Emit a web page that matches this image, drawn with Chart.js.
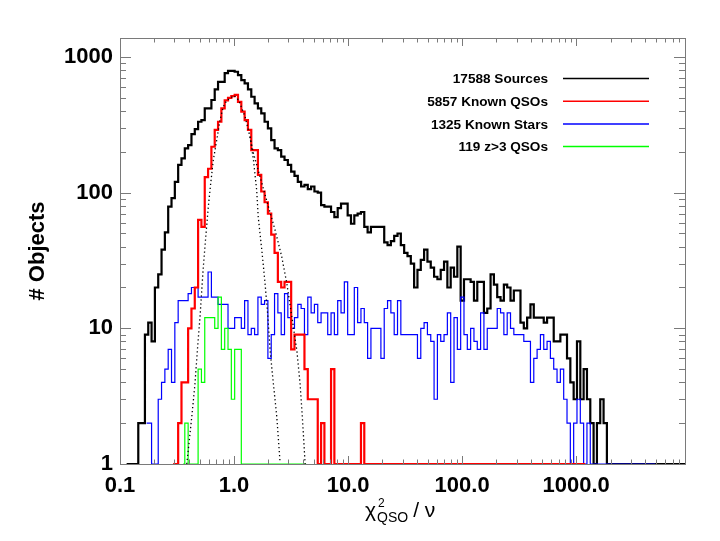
<!DOCTYPE html>
<html>
<head>
<meta charset="utf-8">
<script src="https://cdn.jsdelivr.net/npm/chart.js@4.4.1/dist/chart.umd.min.js"></script>
<style>
  html, body { margin: 0; padding: 0; background: #fff; }
</style>
</head>
<body>
<canvas id="chart" width="720" height="541"></canvas>
<script>
// axis ranges and the log-spaced histogram bins (171 bin centres from X_MIN to X_MAX)
const X_MIN = 0.1;
const X_MAX = 9000;
const Y_MIN = 1;
const Y_MAX = 1380;
const N_BINS = 171;

const xTickValues = [0.1, 1, 10, 100, 1000];
const xTickLabels = ['0.1', '1.0', '10.0', '100.0', '1000.0'];
const yTickValues = [1, 10, 100, 1000];
const yTickLabels = ['1', '10', '100', '1000'];

const legendLabels = ['17588 Sources', '5857 Known QSOs', '1325 Known Stars', '119 z>3 QSOs'];

// counts per bin, each list starts at its own first bin
const sourcesFirstBin = 2;
const sourcesCounts = [
  0, 0, 0, 0, 2, 2,
  9, 11, 8, 20, 25, 38, 51, 79, 91, 120,
  160, 179, 212, 224, 270, 294, 333, 343, 418, 418,
  482, 577, 656, 656, 760, 791, 791, 778, 736, 676,
  639, 577, 509, 455, 418, 384, 333, 298, 244, 212,
  206, 184, 174, 160, 143, 133, 120, 111, 114, 106,
  111, 102, 100, 81, 79, 79, 72, 66, 77, 83,
  83, 68, 59, 68, 70, 72, 56, 51, 56, 56,
  56, 56, 43, 41, 44, 48, 50, 41, 36, 34,
  30, 20, 27, 32, 38, 31, 28, 24, 23, 27,
  31, 20, 28, 24, 40, 16, 23, 23, 22, 16,
  22, 22, 13, 14, 25, 21, 17, 16, 21, 20,
  16, 19, 19, 11, 10, 12, 15, 12, 12, 12,
  11, 12, 12, 8, 8, 9, 9, 6, 4, 3,
  8, 3, 5, 3, 2, 0, 2, 3, 2, 0,
  0, 0, 0, 0, 0, 0, 0, 0, 0, 0, 0, 0, 0, 0, 0, 0, 0, 0, 0, 0, 0, 0, 0
];

const starsFirstBin = 8;
const starsCounts = [
  2, 2, 0, 0,
  3, 4, 5, 7, 4, 11, 16, 16, 16, 18,
  20, 20, 17, 17, 17, 26, 17, 17, 15, 15,
  15, 10, 10, 12, 12, 10, 16, 9, 10, 9,
  17, 15, 16, 6, 9, 18, 13, 9, 18, 12,
  10, 12, 15, 14, 9, 17, 13, 15, 11, 13,
  13, 9, 13, 9, 16, 13, 22, 9, 9, 20,
  11, 14, 11, 6, 10, 10, 10, 6, 14, 16,
  13, 9, 16, 9, 9, 9, 9, 9, 6, 10,
  11, 9, 8, 3, 9, 8, 9, 13, 4, 12,
  7, 17, 9, 7, 10, 8, 7, 13, 7, 10,
  10, 10, 14, 13, 9, 13, 10, 9, 9, 9,
  8, 8, 4, 6, 7, 9, 7, 8, 6, 5,
  4, 5, 3, 2, 0, 2, 3, 2, 0, 2,
  0, 0, 0, 0, 0, 0, 0, 0, 0, 0, 0, 0, 0, 0, 0, 0, 0, 0, 0, 0
];

const qsoFirstBin = 16;
const qsoCounts = [
  0, 0,
  2, 4, 4, 10, 14, 20, 63, 56, 130, 150,
  218, 290, 333, 418, 478, 500, 515, 525, 467, 396,
  343, 290, 206, 206, 135, 102, 85, 70, 49, 36,
  22, 20, 22, 22, 7, 9, 9, 9, 5, 3,
  3, 3, 0, 2, 0, 0, 5, 0, 0, 0,
  0, 0, 0, 0, 0, 2, 0, 0, 0, 0,
  0, 0, 0, 0, 0, 0, 0, 0, 0, 0, 0, 0, 0, 0, 0, 0, 0, 0, 0, 0, 0,
  0, 0, 0, 0, 0, 0, 0, 0, 0, 0, 0, 0, 0, 0, 0, 0, 0, 0, 0, 0, 0,
  0, 0, 0, 0, 0, 0, 0, 0, 0, 0, 0, 0, 0, 0, 0, 0, 0, 0, 0, 0, 0
];

const highzFirstBin = 19;
const highzCounts = [
  0, 2, 0, 0, 0, 5, 4, 12, 12, 12, 10, 17, 7, 10, 7, 3, 7, 7,
  0, 0, 0, 0, 0, 0, 0, 0, 0, 0, 0, 0, 0, 0, 0, 0, 0, 0, 0, 0
];

// dotted model curves
const fitNarrowX = [0.385, 0.397, 0.426, 0.455, 0.477, 0.503, 0.538, 0.568, 0.595, 0.625,
  0.658, 0.705, 0.753, 0.805, 0.863, 1.0, 1.1, 1.25, 1.38, 1.48,
  1.58, 1.63, 1.75, 1.87, 1.98, 2.07, 2.21, 2.37, 2.53];
const fitNarrowY = [1.0, 1.27, 2.23, 3.95, 6.9, 12.2, 28.4, 50, 79, 118,
  174, 244, 343, 430, 478, 520, 480, 362, 258, 174,
  104, 66, 38, 21.5, 12.2, 6.9, 3.95, 2.23, 1.04];
const fitWideX = [1.38, 1.48, 2.00, 2.29, 2.62, 2.90, 3.21, 3.55, 3.79, 3.97, 4.20];
const fitWideY = [258, 195, 79, 53, 33.7, 21.5, 12.2, 6.9, 3.95, 2.23, 1.0];

const FONT = '"Liberation Sans", Arial, Helvetica, sans-serif';
const FRAME_COLOR = '#7a7a7a';

const binDex = Math.log10(X_MAX / X_MIN) / (N_BINS - 1);
function binCentre(k) {
  return X_MIN * Math.pow(10, k * binDex);
}

// empty bins sit on the bottom axis, like the original plot
function histPoints(first, counts) {
  return counts.map((c, i) => ({ x: binCentre(first + i), y: Math.max(c, Y_MIN) }));
}

function curvePoints(xs, ys) {
  return xs.map((x, i) => ({ x: x, y: ys[i] }));
}

function histDataset(label, first, counts, colour, width, order) {
  return {
    label: label,
    data: histPoints(first, counts),
    borderColor: colour,
    borderWidth: width,
    stepped: 'middle',
    pointRadius: 0,
    fill: false,
    clip: 4,
    order: order,
  };
}

// inside tick marks on all four sides, plus the frame
const frameTicks = {
  id: 'frameTicks',
  afterDatasetsDraw(chart) {
    const { ctx, chartArea: a, scales } = chart;
    const x = scales.x, y = scales.y;
    ctx.save();
    ctx.strokeStyle = FRAME_COLOR;
    ctx.lineWidth = 1;
    ctx.beginPath();
    for (let d = -1; d <= 3; d++) {
      for (let m = 1; m <= 9; m++) {
        const v = m * Math.pow(10, d);
        if (v > X_MAX) continue;
        const px = Math.round(x.getPixelForValue(v)) + 0.5;
        const len = m === 1 ? 8 : 4.5;
        ctx.moveTo(px, a.bottom); ctx.lineTo(px, a.bottom - len);
        ctx.moveTo(px, a.top); ctx.lineTo(px, a.top + len);
      }
    }
    for (let d = 0; d <= 3; d++) {
      for (let m = 1; m <= 9; m++) {
        const v = m * Math.pow(10, d);
        if (v > Y_MAX) continue;
        const py = Math.round(y.getPixelForValue(v)) + 0.5;
        const len = m === 1 ? 11 : 6;
        ctx.moveTo(a.left, py); ctx.lineTo(a.left + len, py);
        ctx.moveTo(a.right, py); ctx.lineTo(a.right - len, py);
      }
    }
    ctx.stroke();
    ctx.strokeRect(Math.round(a.left) + 0.5, Math.round(a.top) + 0.5,
      Math.round(a.width), Math.round(a.height));
    ctx.restore();
  }
};

// legend: right aligned text with a line sample to its right
const sideLegend = {
  id: 'sideLegend',
  afterDraw(chart) {
    const { ctx } = chart;
    ctx.save();
    ctx.font = 'bold 13.6px ' + FONT;
    ctx.textAlign = 'right';
    ctx.textBaseline = 'middle';
    legendLabels.forEach((label, i) => {
      const ds = chart.data.datasets.find(d => d.label === label);
      const ly = 78.5 + i * 22.7;
      ctx.fillStyle = '#000';
      ctx.fillText(label, 548, ly + 1);
      ctx.strokeStyle = ds.borderColor;
      ctx.lineWidth = 1.5;
      ctx.beginPath();
      ctx.moveTo(563, ly);
      ctx.lineTo(649, ly);
      ctx.stroke();
    });
    ctx.restore();
  }
};

// x title with a super- and subscript: chi^2_QSO / nu
const xTitle = {
  id: 'xTitle',
  afterDraw(chart) {
    const { ctx } = chart;
    ctx.save();
    ctx.fillStyle = '#000';
    ctx.textBaseline = 'alphabetic';
    ctx.textAlign = 'left';
    const base = 517;
    let cx = 365;
    ctx.font = '21px ' + FONT;
    ctx.fillText('\u03C7', cx, base);
    cx += ctx.measureText('\u03C7').width + 1;
    ctx.font = '12px ' + FONT;
    ctx.fillText('2', cx + 1, base - 10);
    ctx.font = '14px ' + FONT;
    ctx.fillText('QSO', cx, base + 5);
    cx += ctx.measureText('QSO').width + 5;
    ctx.font = '21px ' + FONT;
    ctx.fillText('/ \u03BD', cx, base);
    ctx.restore();
  }
};

const datasets = [
  histDataset(legendLabels[0], sourcesFirstBin, sourcesCounts, '#000000', 2.2, 5),
  histDataset(legendLabels[2], starsFirstBin, starsCounts, '#0000ff', 1.2, 4),
  histDataset(legendLabels[1], qsoFirstBin, qsoCounts, '#ff0000', 2.2, 3),
  histDataset(legendLabels[3], highzFirstBin, highzCounts, '#00ff00', 1.2, 2),
  {
    label: 'fit narrow',
    data: curvePoints(fitNarrowX, fitNarrowY),
    borderColor: '#000',
    borderWidth: 1.3,
    borderDash: [1.3, 2.7],
    pointRadius: 0,
    fill: false,
    order: 1,
  },
  {
    label: 'fit wide',
    data: curvePoints(fitWideX, fitWideY),
    borderColor: '#000',
    borderWidth: 1.3,
    borderDash: [1.3, 2.7],
    pointRadius: 0,
    fill: false,
    order: 1,
  },
];

new Chart(document.getElementById('chart'), {
  type: 'line',
  data: { datasets: datasets },
  options: {
    responsive: false,
    animation: false,
    events: [],
    layout: { padding: { top: 38, right: 35, left: 0, bottom: 0 } },
    plugins: {
      legend: { display: false },
      tooltip: { enabled: false },
    },
    scales: {
      x: {
        type: 'logarithmic',
        min: X_MIN,
        max: X_MAX,
        afterBuildTicks: (scale) => { scale.ticks = xTickValues.map(v => ({ value: v })); },
        afterFit: (scale) => { scale.height = 77; },
        ticks: {
          autoSkip: false,
          maxRotation: 0,
          padding: 9,
          color: '#000',
          font: { family: FONT, size: 22, weight: 'bold' },
          callback: (value, index) => xTickLabels[index],
        },
        grid: { display: false, drawTicks: false },
        border: { display: false },
      },
      y: {
        type: 'logarithmic',
        min: Y_MIN,
        max: Y_MAX,
        afterBuildTicks: (scale) => { scale.ticks = yTickValues.map(v => ({ value: v })); },
        afterFit: (scale) => { scale.width = 120; },
        ticks: {
          autoSkip: false,
          padding: 7,
          color: '#000',
          font: { family: FONT, size: 22, weight: 'bold' },
          callback: (value, index) => yTickLabels[index],
        },
        grid: { display: false, drawTicks: false },
        border: { display: false },
        title: {
          display: true,
          text: '# Objects',
          color: '#000',
          font: { family: FONT, size: 22, weight: 'bold' },
          padding: { top: 25, bottom: 0 },
        },
      },
    },
  },
  plugins: [frameTicks, sideLegend, xTitle],
});
</script>
</body>
</html>
